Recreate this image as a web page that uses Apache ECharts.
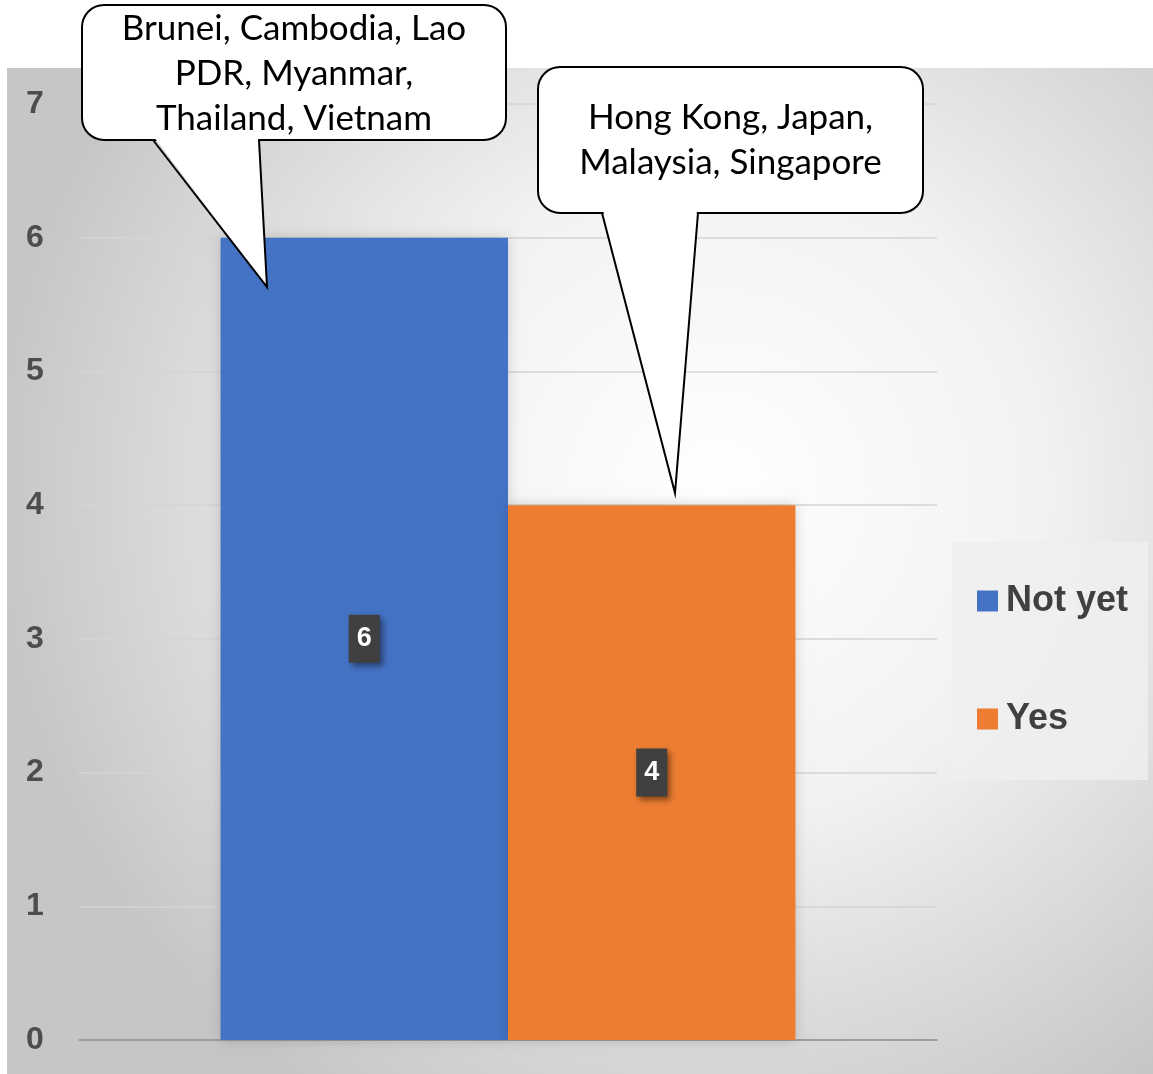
<!DOCTYPE html>
<html>
<head>
<meta charset="utf-8">
<title>Not yet / Yes</title>
<script src="https://cdn.jsdelivr.net/npm/echarts@6/dist/echarts.min.js"></script>
<style>
  html, body { margin: 0; padding: 0; background: #fff; }
  #chart { width: 1153px; height: 1074px; }
</style>
</head>
<body>
<div id="chart"></div>
<script>
// data
const categories = [''];
const seriesNames = ['Not yet', 'Yes'];
const notYetValues = [6];
const yesValues = [4];
const seriesColors = ['#4472C4', '#ED7D31'];
const calloutNotYet = ['Brunei, Cambodia, Lao', 'PDR, Myanmar,', 'Thailand, Vietnam'];
const calloutYes = ['Hong Kong, Japan,', 'Malaysia, Singapore'];

const chart = echarts.init(document.getElementById('chart'));

// speech bubble: rounded box + pointer triangle
function bubble(box, base, tip, lines, lineTop) {
  const els = [];
  els.push({
    type: 'rect', z: 100,
    shape: { x: box[0], y: box[1], width: box[2], height: box[3], r: 22 },
    style: { fill: '#fff', stroke: '#000', lineWidth: 2 }
  });
  const by = box[1] + box[3];
  els.push({
    type: 'polygon', z: 101,
    shape: { points: [[base[0] + 1, by - 3], tip, [base[1] - 1, by - 3]] },
    style: { fill: '#fff' }
  });
  els.push({
    type: 'polyline', z: 102,
    shape: { points: [[base[0], by], tip, [base[1], by]] },
    style: { stroke: '#000', lineWidth: 2, fill: null }
  });
  lines.forEach((t, i) => {
    els.push({
      type: 'text', z: 103,
      style: {
        text: t, x: box[0] + box[2] / 2, y: lineTop + i * 45,
        align: 'center', verticalAlign: 'middle',
        font: '35px Lato, "Open Sans", sans-serif', fill: '#000'
      }
    });
  });
  return els;
}

const option = {
  backgroundColor: '#fff',
  animation: false,
  grid: { left: 79, right: 216, top: 104, bottom: 34 },
  legend: {
    data: seriesNames,
    orient: 'vertical',
    left: 952,
    top: 542,
    padding: [39, 20, 41, 25],
    itemGap: 78,
    itemWidth: 21,
    itemHeight: 21,
    icon: 'rect',
    backgroundColor: 'rgba(238,238,238,0.85)',
    textStyle: {
      fontSize: 36, fontWeight: 'bold', color: '#404040', lineHeight: 40,
      fontFamily: '"Liberation Sans", Arial, sans-serif', padding: [0, 0, 0, 3]
    }
  },
  xAxis: {
    type: 'category',
    data: categories,
    axisLine: { lineStyle: { color: '#8c8c8c', width: 1.5 } },
    axisTick: { show: false },
    axisLabel: { show: false }
  },
  yAxis: {
    type: 'value',
    min: 0, max: 7, interval: 1,
    axisLine: { show: false },
    axisTick: { show: false },
    splitLine: { lineStyle: { color: '#d4d4d4', width: 1.5 } },
    axisLabel: {
      fontSize: 32, fontWeight: 'bold', color: '#4d4d4d',
      fontFamily: '"Liberation Sans", Arial, sans-serif',
      align: 'center', margin: 44
    }
  },
  series: [
    { name: seriesNames[0], data: notYetValues },
    { name: seriesNames[1], data: yesValues }
  ].map((s, i) => ({
    type: 'bar',
    name: s.name,
    data: s.data,
    barGap: '0%',
    barCategoryGap: '33%',
    itemStyle: {
      color: seriesColors[i],
      shadowBlur: 12, shadowColor: 'rgba(0,0,0,0.18)'
    },
    label: {
      show: true,
      position: 'inside',
      color: '#fff',
      fontSize: 27,
      fontWeight: 'bold',
      fontFamily: '"Liberation Sans", Arial, sans-serif',
      backgroundColor: '#404040',
      padding: [11, 8, 10, 8],
      shadowBlur: 6,
      shadowColor: 'rgba(0,0,0,0.45)',
      shadowOffsetX: 3,
      shadowOffsetY: 3
    }
  })),
  graphic: [
    {
      type: 'rect', z: -100, silent: true,
      shape: { x: 7, y: 68, width: 1146, height: 1006 },
      style: {
        fill: new echarts.graphic.RadialGradient(0.62, 0.42, 0.72, [
          { offset: 0, color: '#ffffff' },
          { offset: 0.45, color: '#f2f2f2' },
          { offset: 1, color: '#c6c6c6' }
        ])
      }
    }
  ]
    .concat(bubble([82, 5, 424, 135], [153, 259], [267, 287], calloutNotYet, 29))
    .concat(bubble([538, 67, 385, 146], [602, 698], [675, 493], calloutYes, 118))
};

chart.setOption(option);
</script>
</body>
</html>
